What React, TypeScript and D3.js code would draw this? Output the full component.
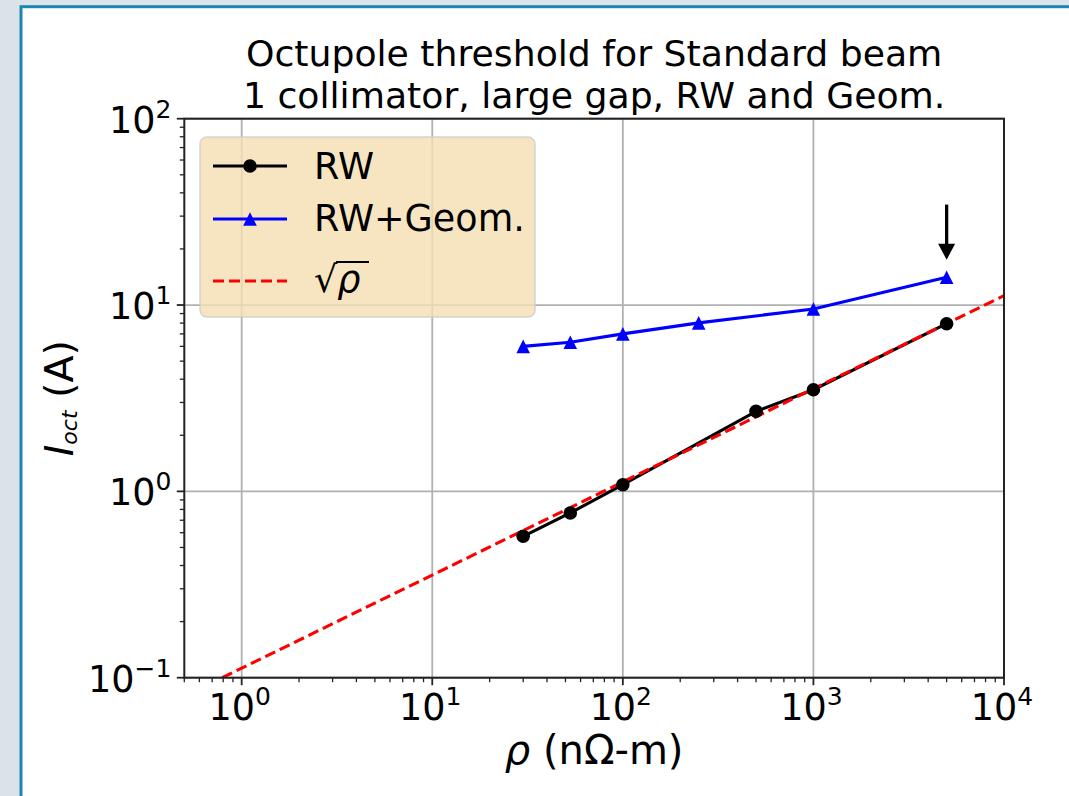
import * as d3 from "d3";

// resistivity (nOhm-m) and octupole threshold (A)
const rwRho = [30, 53, 100, 500, 1000, 5000];
const rwAmps = [0.574, 0.766, 1.086, 2.69, 3.51, 7.94];

const geomRho = [30, 53, 100, 250, 1000, 5000];
const geomAmps = [6.0, 6.31, 7.0, 8.02, 9.53, 14.1];

// sqrt(rho) reference line, two end points
const sqrtRho = [0.79, 10000];
const sqrtAmps = [0.1, 11.23];

// arrow pointing at the last RW+Geom. point
const arrowRho = 5000;
const arrowTail = 34.6;
const arrowTip = 17.5;

const xTicks = [1, 10, 100, 1000, 10000];
const xTickExp = ["0", "1", "2", "3", "4"];
const yTicks = [0.1, 1, 10, 100];
const yTickExp = ["\u22121", "0", "1", "2"];

const W = 1069,
  H = 796;
const left = 184.3,
  right = 1004,
  top = 118.7,
  bottom = 677.7;

const font = "'DejaVu Sans', sans-serif";

function minorTicks(lo: number, hi: number) {
  const out: number[] = [];
  for (let e = -2; e <= 5; e++) {
    for (let m = 2; m <= 9; m++) {
      const v = m * Math.pow(10, e);
      if (v >= lo && v <= hi) out.push(v);
    }
  }
  return out;
}

export default function App() {
  const x = d3.scaleLog().domain([0.5, 1e4]).range([left, right]);
  const y = d3.scaleLog().domain([0.1, 100]).range([bottom, top]);

  const line = d3
    .line<[number, number]>()
    .x((d) => x(d[0]))
    .y((d) => y(d[1]));

  const rwPts = rwRho.map((r, i) => [r, rwAmps[i]] as [number, number]);
  const geomPts = geomRho.map((r, i) => [r, geomAmps[i]] as [number, number]);
  const sqrtPts = sqrtRho.map((r, i) => [r, sqrtAmps[i]] as [number, number]);

  const tri = (cx: number, cy: number, s: number) =>
    `M${cx},${cy - s}L${cx - s},${cy + s}L${cx + s},${cy + s}Z`;

  const ax = x(arrowRho);
  const aTail = y(arrowTail);
  const aTip = y(arrowTip);

  return (
    <svg
      width={W}
      height={H}
      style={{ position: "absolute", left: 0, top: 0 }}
      fontFamily={font}
    >
      <rect width={W} height={H} fill="#dbe2e8" />
      <rect x={21} y={6.7} width={W} height={H} fill="#fff" stroke="#1c86b3" strokeWidth={3} />

      <defs>
        <clipPath id="plot">
          <rect x={left} y={top} width={right - left} height={bottom - top} />
        </clipPath>
      </defs>

      {/* grid */}
      <g stroke="#b0b0b0" strokeWidth={1.8}>
        {xTicks.map((t) => (
          <line key={"gx" + t} x1={x(t)} x2={x(t)} y1={top} y2={bottom} />
        ))}
        {yTicks.map((t) => (
          <line key={"gy" + t} x1={left} x2={right} y1={y(t)} y2={y(t)} />
        ))}
      </g>

      {/* series */}
      <g clipPath="url(#plot)">
        <path d={line(rwPts) || ""} fill="none" stroke="#000" strokeWidth={3.1} />
        <path d={line(geomPts) || ""} fill="none" stroke="#0000ff" strokeWidth={3.1} />
        <path
          d={line(sqrtPts) || ""}
          fill="none"
          stroke="#ff0000"
          strokeWidth={3.1}
          strokeDasharray="11,5"
        />
      </g>
      {rwPts.map((d, i) => (
        <circle key={"c" + i} cx={x(d[0])} cy={y(d[1])} r={6.8} fill="#000" />
      ))}
      {geomPts.map((d, i) => (
        <path key={"t" + i} d={tri(x(d[0]), y(d[1]), 6.8)} fill="#0000ff" />
      ))}

      {/* arrow */}
      <line x1={ax} x2={ax} y1={aTail} y2={aTip - 12} stroke="#000" strokeWidth={3.3} />
      <path d={`M${ax - 8.5},${aTip - 16}L${ax + 8.5},${aTip - 16}L${ax},${aTip}Z`} fill="#000" />

      {/* spines */}
      <rect
        x={left}
        y={top}
        width={right - left}
        height={bottom - top}
        fill="none"
        stroke="#222"
        strokeWidth={2}
      />

      {/* ticks */}
      <g stroke="#222" strokeWidth={1.8}>
        {xTicks.map((t) => (
          <line key={"tx" + t} x1={x(t)} x2={x(t)} y1={bottom} y2={bottom + 7.5} />
        ))}
        {minorTicks(0.5, 1e4).map((t) => (
          <line key={"mx" + t} x1={x(t)} x2={x(t)} y1={bottom} y2={bottom + 4.5} strokeWidth={1.3} />
        ))}
        {yTicks.map((t) => (
          <line key={"ty" + t} x1={left - 7.5} x2={left} y1={y(t)} y2={y(t)} />
        ))}
        {minorTicks(0.1, 100).map((t) => (
          <line key={"my" + t} x1={left - 4.5} x2={left} y1={y(t)} y2={y(t)} strokeWidth={1.3} />
        ))}
      </g>

      {/* tick labels */}
      <g fontSize={36.5} fill="#000">
        {xTicks.map((t, i) => (
          <text key={"lx" + t} x={x(t) - 2} y={bottom + 42} textAnchor="middle">
            10
            <tspan fontSize={25} dy={-15}>
              {xTickExp[i]}
            </tspan>
          </text>
        ))}
        {yTicks.map((t, i) => (
          <text key={"ly" + t} x={left - 13} y={y(t) + 14} textAnchor="end">
            10
            <tspan fontSize={25} dy={-15}>
              {yTickExp[i]}
            </tspan>
          </text>
        ))}
      </g>

      {/* legend */}
      <rect
        x={200}
        y={137}
        width={335}
        height={180}
        rx={7}
        fill="#f5deb3"
        fillOpacity={0.8}
        stroke="#cccccc"
        strokeOpacity={0.8}
        strokeWidth={1.5}
      />
      <line x1={213} x2={287} y1={166} y2={166} stroke="#000" strokeWidth={3.1} />
      <circle cx={250} cy={166} r={6.8} fill="#000" />
      <line x1={213} x2={287} y1={219} y2={219} stroke="#0000ff" strokeWidth={3.1} />
      <path d={tri(250, 219, 6.8)} fill="#0000ff" />
      <line
        x1={213}
        x2={287}
        y1={281}
        y2={281}
        stroke="#ff0000"
        strokeWidth={3.1}
        strokeDasharray="11,5"
      />
      <g fontSize={36.5} fill="#000">
        <text x={314} y={179}>RW</text>
        <text x={314} y={231}>RW+Geom.</text>
        <text x={314} y={292}>
          √<tspan fontStyle="italic">ρ</tspan>
        </text>
      </g>
      <line x1={336} x2={369} y1={262} y2={262} stroke="#000" strokeWidth={2} />

      {/* title */}
      <g fontSize={36.2} fill="#000" textAnchor="middle">
        <text x={(left + right) / 2} y={66}>
          Octupole threshold for Standard beam
        </text>
        <text x={(left + right) / 2} y={108}>
          1 collimator, large gap, RW and Geom.
        </text>
      </g>

      {/* axis labels */}
      <text x={(left + right) / 2} y={764} fontSize={40} textAnchor="middle">
        <tspan fontStyle="italic">ρ</tspan> (nΩ-m)
      </text>
      <text
        transform={`translate(73, ${(top + bottom) / 2}) rotate(-90)`}
        fontSize={39.5}
        textAnchor="middle"
      >
        <tspan fontStyle="italic">I</tspan>
        <tspan fontStyle="italic" fontSize={22} dy={4}>
          oct
        </tspan>
        <tspan dy={-4}> (A)</tspan>
      </text>
    </svg>
  );
}
